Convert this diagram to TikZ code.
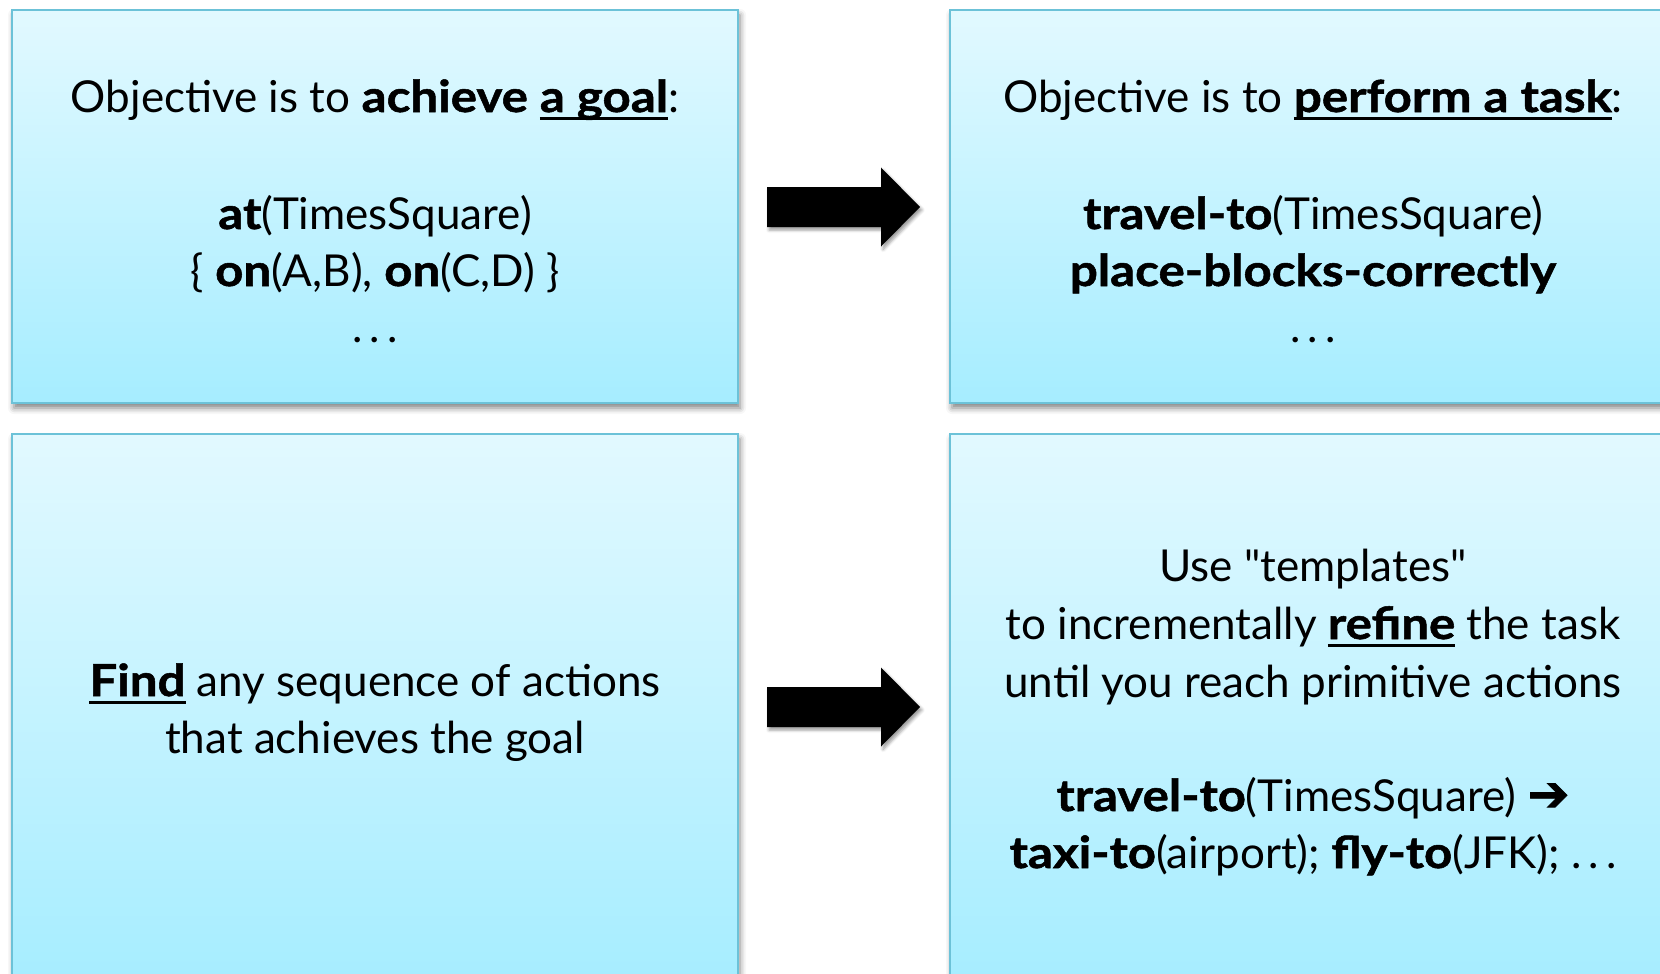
\documentclass[tikz,border=0pt]{standalone}
\usepackage{fontspec}
\setmainfont{Lato}[BoldFeatures={FakeStretch=1.12,FakeBold=1.2}]
\newfontfamily\quotefont{Lato}[Ligatures=TeXOff]
\newfontfamily\symfont{DejaVu Sans}[FakeBold=1.5]
\usetikzlibrary{shadows.blur}

\definecolor{panelTop}{HTML}{E2F9FF}
\definecolor{panelBottom}{HTML}{A6EDFF}
\definecolor{panelEdge}{HTML}{6CC2D8}

% thick underline placed a little below the baseline
\newcommand\ulin[1]{\leavevmode\setbox0=\hbox{#1}\rlap{\rule[-8pt]{\wd0}{3pt}}\box0\relax}
% straight double quote and widely spaced ellipsis
\newcommand\dq{{\quotefont"}}
\newcommand\dotsw{.\hspace{0.16em}.\hspace{0.16em}.}

\begin{document}
\begin{tikzpicture}[x=1pt,y=-1pt,
  panel/.style={draw=panelEdge, line width=1.6pt, top color=panelTop,
    bottom color=panelBottom, minimum width=726pt, inner sep=0pt,
    blur shadow={shadow xshift=2pt, shadow yshift=-5pt,
      shadow blur radius=6pt, shadow opacity=50}},
  txt/.style={anchor=base, inner sep=0pt, font=\fontsize{44}{52}\selectfont},
  blockarrow/.style={fill=black,
    blur shadow={shadow xshift=2pt, shadow yshift=-3pt,
      shadow blur radius=3pt, shadow opacity=40}}]

\useasboundingbox (0,0) rectangle (1660,974);
\clip (0,0) rectangle (1660,974);

% the four panels
\node[panel, minimum height=393pt] (goalTop) at (375,206.5) {};
\node[panel, minimum height=393pt] (taskTop) at (1313,206.5) {};
\node[panel, minimum height=550pt] (goalBot) at (375,709) {};
\node[panel, minimum height=550pt] (taskBot) at (1313,709) {};

% block arrows between the columns
\coordinate (a1) at (767,207);
\coordinate (a2) at (767,707);
\fill[blockarrow] (a1) ++(0,-20) -- ++(114,0) -- ++(0,-19.5) -- ++(39,39.5)
  -- ++(-39,39.5) -- ++(0,-19.5) -- ++(-114,0) -- cycle;
\fill[blockarrow] (a2) ++(0,-20) -- ++(114,0) -- ++(0,-19.5) -- ++(39,39.5)
  -- ++(-39,39.5) -- ++(0,-19.5) -- ++(-114,0) -- cycle;

% goal-based planning
\node[txt] (g1) at (375,112) {Objective is to \textbf{achieve \ulin{a goal}}:};
\node[txt] (g2) at (375,229) {\textbf{at}(TimesSquare)};
\node[txt] (g3) at (375,286) {\{ \textbf{on}(A,B), \textbf{on}(C,D) \}};
\node[txt] (g4) at (375,342) {\dotsw};

% task-based planning
\node[txt] (t1) at (1313,112) {Objective is to \ulin{\textbf{perform a task}}:};
\node[txt] (t2) at (1313,229) {\textbf{travel-to}(TimesSquare)};
\node[txt] (t3) at (1313,286) {\textbf{place-blocks-correctly}};
\node[txt] (t4) at (1313,342) {\dotsw};

% search
\node[txt] (f1) at (375,696) {\ulin{\textbf{Find}} any sequence of actions};
\node[txt] (f2) at (375,753) {that achieves the goal};

% refinement
\node[txt] (r1) at (1313,581) {Use \dq templates\dq};
\node[txt] (r2) at (1313,639) {to incrementally \ulin{\textbf{refine}} the task};
\node[txt] (r3) at (1313,697) {until you reach primitive actions};
\node[txt] (r4) at (1313,811) {\textbf{travel-to}(TimesSquare) {\symfont\fontsize{50}{52}\selectfont ➔}};
\node[txt] (r5) at (1313,868) {\textbf{taxi-to}(airport); \textbf{fly-to}(JFK); \dotsw};
\end{tikzpicture}
\end{document}
